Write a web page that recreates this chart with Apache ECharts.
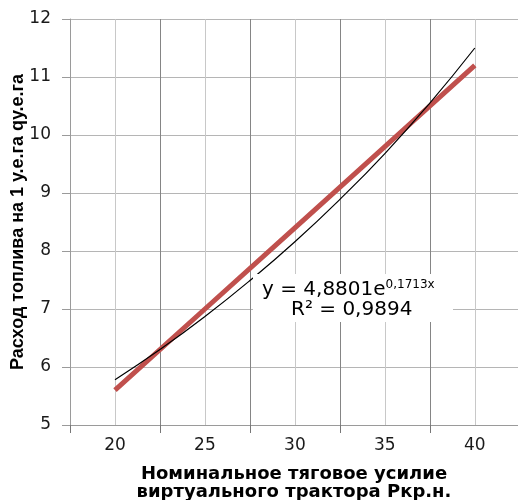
<!DOCTYPE html>
<html><head><meta charset="utf-8">
<script src="https://cdn.jsdelivr.net/npm/echarts@6/dist/echarts.min.js"></script>
<style>html,body{margin:0;padding:0;background:#fff}#c{width:518px;height:500px}</style>
</head><body><div id="c"></div>
<script>
// Data
const xValues = [20, 25, 30, 35, 40];
const redValues = [5.6, 7.0, 8.4, 9.8, 11.2];
const curveX = [20, 22.5, 25, 27.5, 30, 32.5, 35, 37.5, 40];
const curveY = [5.78, 6.3, 6.87, 7.49, 8.16, 8.89, 9.68, 10.55, 11.5];
const yTicks = [5, 6, 7, 8, 9, 10, 11, 12];
const xLabelValues = [20, 25, 30, 35, 40];
const eqLine1 = 'y = 4,8801e';
const eqExp = '0,1713x';
const eqLine2 = 'R² = 0,9894';
const yTitle = 'Расход топлива на 1 у.е.га qу.е.га';
const xTitle = 'Номинальное тяговое усилие\nвиртуального трактора Ркр.н.';

const FONT = '"DejaVu Sans", sans-serif';
const FONT2 = '"Liberation Sans", Arial, sans-serif';
const chart = echarts.init(document.getElementById('c'));
const xMin = 17.5, xMax = 42.4;
chart.setOption({
  animation: false,
  grid: { left: 70, right: 0, top: 19, bottom: 75, containLabel: false, outerBoundsMode: 'none' },
  xAxis: [{
    type: 'value', min: xMin, max: xMax, interval: 2.5,
    name: xTitle, nameLocation: 'middle', nameGap: 40, nameMoveOverlap: false,
    nameTextStyle: { fontFamily: FONT, fontWeight: 'bold', fontSize: 18, color: '#000', lineHeight: 18 },
    axisLine: { show: true, lineStyle: { color: '#9a9a9a', width: 1 } },
    axisTick: { show: false },
    axisLabel: { margin: 12, fontFamily: FONT, fontSize: 17, color: '#1a1a1a',
      formatter: v => (xLabelValues.indexOf(Math.round(v*10)/10) >= 0 ? String(v) : '') },
    splitLine: { show: true, lineStyle: { color: '#c8c8c8', width: 1 } }
  }, {
    type: 'value', min: 0, max: xMax - xMin, interval: 5, position: 'bottom',
    axisLine: { show: false },
    axisTick: { show: true, length: 8, lineStyle: { color: '#777' } },
    axisLabel: { show: false },
    splitLine: { show: true, lineStyle: { color: '#858585', width: 1 } }
  }],
  yAxis: {
    type: 'value', min: yTicks[0], max: yTicks[yTicks.length-1], interval: 1,
    name: yTitle, nameLocation: 'middle', nameGap: 43, nameMoveOverlap: false,
    nameTextStyle: { fontFamily: FONT2, fontWeight: 'bold', fontSize: 18, color: '#000' },
    axisLine: { show: true, lineStyle: { color: '#9a9a9a' } },
    axisTick: { show: true, length: 8, lineStyle: { color: '#9a9a9a' } },
    axisLabel: { margin: 19, fontFamily: FONT, fontSize: 17, color: '#1a1a1a' },
    splitLine: { show: true, lineStyle: { color: '#b5b5b5' } }
  },
  series: [{
    type: 'line', xAxisIndex: 0, data: xValues.map((x, i) => [x, redValues[i]]),
    symbol: 'none', lineStyle: { color: '#c0504d', width: 5 }, z: 2
  }, {
    type: 'line', xAxisIndex: 0, data: curveX.map((x, i) => [x, curveY[i]]),
    symbol: 'none', smooth: true, lineStyle: { color: '#000', width: 1.2 }, z: 3
  }],
  graphic: [{
    type: 'rect', left: 253, top: 274, shape: { width: 200, height: 48 },
    style: { fill: '#fff' }, z: 100
  }, {
    type: 'text', left: 262, top: 279, z: 101,
    style: { rich: {
        a: { fontFamily: FONT, fontSize: 20, fill: '#000', lineHeight: 22 },
        s: { fontFamily: FONT, fontSize: 12, fill: '#000', verticalAlign: 'top', lineHeight: 22, padding: [0,0,8,0] }
      }, text: '{a|' + eqLine1 + '}{s|' + eqExp + '}' }
  }, {
    type: 'text', left: 291, top: 300, z: 101,
    style: { fontFamily: FONT, fontSize: 20, fill: '#000', text: eqLine2 }
  }]
});
</script></body></html>
